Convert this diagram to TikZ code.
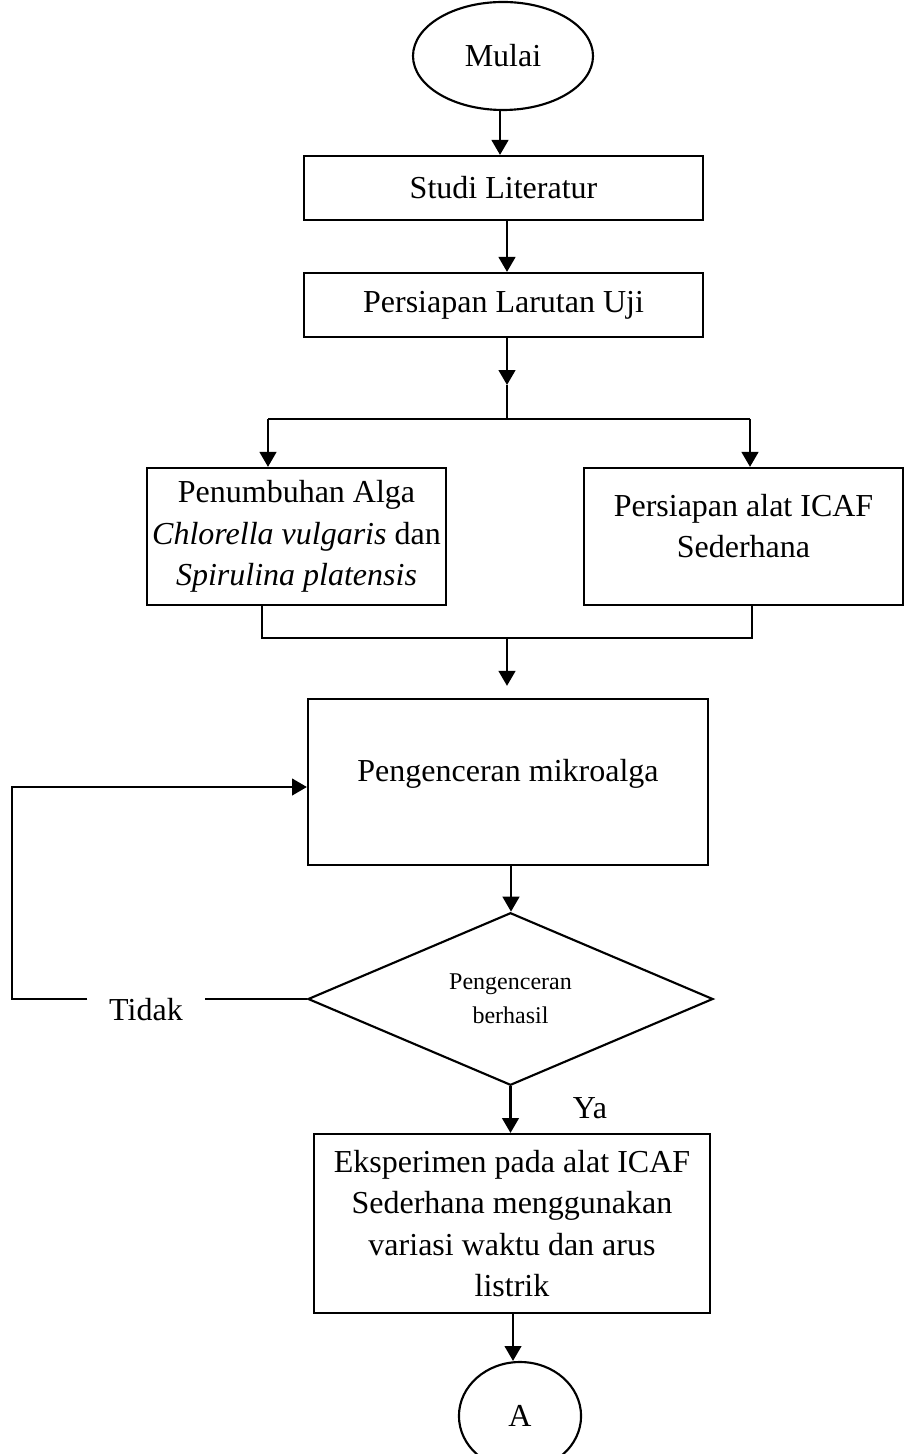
\documentclass[tikz,border=0pt]{standalone}
\usepackage{fontspec}
\setmainfont{Liberation Serif}
\usetikzlibrary{arrows.meta,
                positioning,
                shapes.geometric
                }

\begin{document}
\begin{tikzpicture}[
    x=0.375pt, y=-0.375pt,
    font=\fontsize{12}{15.6}\selectfont,
 proc/.style = {draw, line width=0.8pt, align=center, inner sep=2pt},
 term/.style = {shape=ellipse, draw, line width=0.8pt, inner sep=0pt},
  dec/.style = {shape=diamond, draw, line width=0.8pt, align=center, inner sep=0pt,
                font=\fontsize{9}{12.75}\selectfont},
  arr/.style = {line width=1pt, -{Triangle[length=5.6pt, width=6.2pt]}},
 link/.style = {line width=0.4pt}
                    ]
\useasboundingbox (0,0) rectangle (904,1454);
\node (mulai)  [term, minimum width=67.5pt, minimum height=40.5pt] at (503,56) {Mulai};
\node (studi)  [proc, minimum width=149.6pt, minimum height=24pt] at (503.5,188) {Studi Literatur};
\node (larutan)[proc, minimum width=149.6pt, minimum height=24pt] at (503.5,305) {Persiapan Larutan Uji};
\node (alga)   [proc, minimum width=111.4pt, minimum height=51.4pt] at (296.5,536.5)
               {Penumbuhan Alga\\ \textit{Chlorella vulgaris} dan\\ \textit{Spirulina platensis}};
\node (alat)   [proc, minimum width=119.6pt, minimum height=51.4pt, text depth=8pt] at (743.5,536.5)
               {Persiapan alat ICAF\\ Sederhana};
\node (encer)  [proc, minimum width=150pt, minimum height=62.3pt, text depth=9pt] at (508,782)
               {Pengenceran mikroalga};
\node (cek)    [dec, minimum width=151.9pt, minimum height=63pt] at (510.5,999)
               {Pengenceran\\ berhasil};
\node (eksp)   [proc, minimum width=148.5pt, minimum height=67.1pt] at (512,1223.5)
               {Eksperimen pada alat ICAF\\ Sederhana menggunakan\\ variasi waktu dan arus\\ listrik};
\node (A)      [term, minimum width=45.8pt, minimum height=40.5pt] at (520,1416) {A};
\node (tidak)  [inner xsep=8pt] at (146,1010) {Tidak};
\node (ya)     at (590,1108) {Ya};
% main column
\draw[arr] (mulai.south -| 500,0) -- (studi.north -| 500,0);
\draw[arr] (studi.south -| 507,0) -- (larutan.north -| 507,0);
% split into two
\coordinate (pisah) at (507,385);
\coordinate (cabL)  at (268,419);
\coordinate (cabR)  at (750,419);
\draw[arr]  (larutan.south -| pisah) -- (pisah);
\draw[link] (pisah) -- (pisah |- cabL);
\draw[link] (cabL) -- (cabR);
\draw[arr]  (cabL) -- (cabL |- alga.north);
\draw[arr]  (cabR) -- (cabR |- alat.north);
% join again
\coordinate (gabL) at (262,638);
\coordinate (gabM) at (507,638);
\coordinate (gabR) at (752,638);
\draw[link] (gabL |- alga.south) -- (gabL) -- (gabR) -- (gabR |- alat.south);
\draw[arr, shorten >=4.5pt] (gabM) -- (gabM |- encer.north);
\draw[arr]  (encer.south -| 511,0) -- (cek.north -| 511,0);
\draw[arr]  (cek.south) -- (cek.south |- eksp.north);
\draw[arr]  (eksp.south -| 513,0) -- (A.north -| 513,0);
% loop back
\coordinate (kiri)  at (12,999);
\coordinate (balik) at (270,787);
\draw[link] (cek.west) -- (cek.west -| tidak.east);
\draw[link] (tidak.west |- cek.west) -- (kiri) |- (balik);
\draw[arr]  (balik) -- (balik -| encer.west);
\end{tikzpicture}
\end{document}
